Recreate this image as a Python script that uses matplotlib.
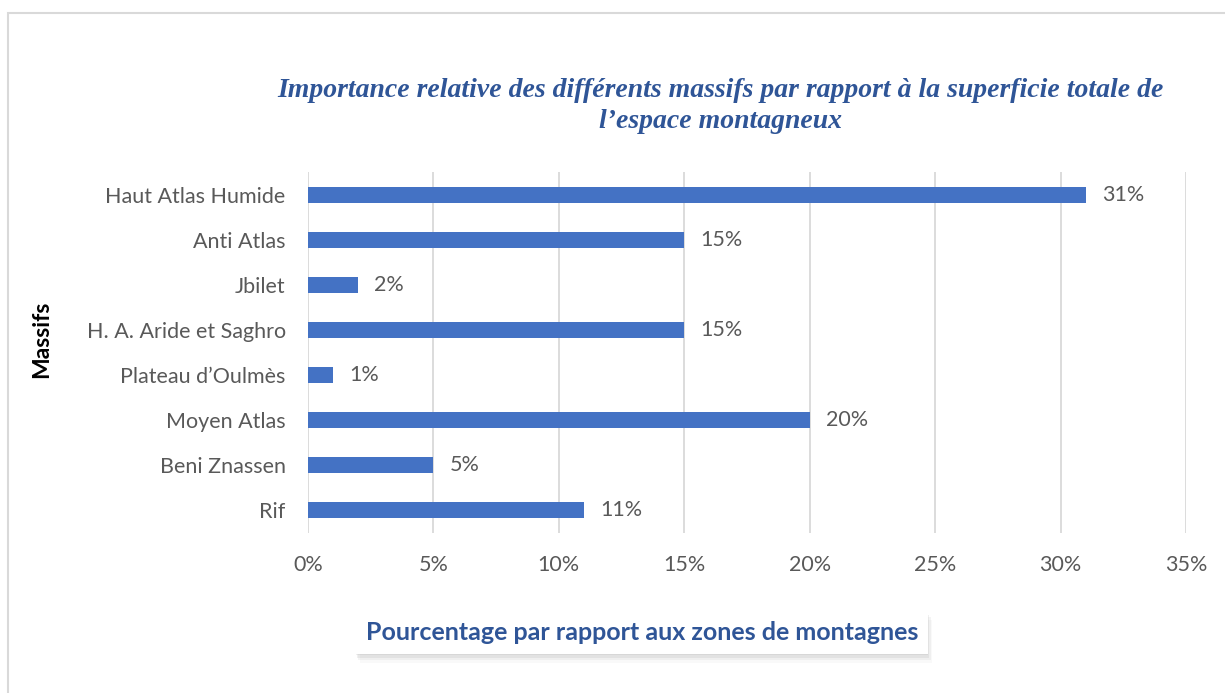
import matplotlib.pyplot as plt
import matplotlib.patheffects as pe
from matplotlib.patches import Rectangle
from matplotlib.ticker import FuncFormatter

massifs = ["Haut Atlas Humide", "Anti Atlas", "Jbilet", "H. A. Aride et Saghro",
           "Plateau d\u2019Oulm\u00e8s", "Moyen Atlas", "Beni Znassen", "Rif"]
pourcentages = [31, 15, 2, 15, 1, 20, 5, 11]

BAR_COLOR = "#4472C4"
TEXT_GREY = "#595959"
BLUE = "#2F5597"
FS = 15.5

fig = plt.figure(figsize=(12.25, 6.93), dpi=100)
fig.patches.append(Rectangle((8 / 1225, -0.1), 1.2, 1 - 13 / 693 + 0.1,
                             transform=fig.transFigure, fill=False,
                             edgecolor="#D9D9D9", linewidth=1.5, zorder=0))

ax = fig.add_axes([0.2514, 0.2316, 0.7167, 0.5195])
y = list(range(len(massifs)))
bars = ax.barh(y, pourcentages, height=0.36, color=BAR_COLOR, zorder=3)
ax.set_ylim(len(massifs) - 0.5, -0.5)
ax.set_xlim(0, 35)
ax.set_xticks(range(0, 36, 5))
ax.xaxis.set_major_formatter(FuncFormatter(lambda v, p: f"{v:.0f}%"))
ax.set_yticks(y)
ax.set_yticklabels(massifs)

for b, v in zip(bars, pourcentages):
    ax.text(b.get_width() + 0.65, b.get_y() + b.get_height() / 2, f"{v}%",
            va="center", ha="left", fontsize=FS, color=TEXT_GREY, family="Lato")

ax.grid(axis="x", color="#D9D9D9", linewidth=1.3, zorder=0)
for s in ax.spines.values():
    s.set_visible(False)
ax.tick_params(axis="both", length=0, labelsize=FS, labelcolor=TEXT_GREY)
ax.tick_params(axis="y", pad=16)
ax.tick_params(axis="x", pad=16)
for lbl in ax.get_xticklabels() + ax.get_yticklabels():
    lbl.set_family("Lato")

fig.text(0.588, 0.847,
         "Importance relative des diff\u00e9rents massifs par rapport \u00e0 la superficie totale de\n"
         "l\u2019espace montagneux",
         ha="center", va="center", fontsize=20, fontweight="bold", style="italic",
         family="Liberation Serif", color=BLUE, linespacing=1.3)

fig.text(0.034, 0.51, "Massifs", rotation=90, ha="center", va="center",
         fontsize=16.5, fontweight="bold", color="black", family="Lato")

xl = fig.text(0.524, 0.088, "Pourcentage par rapport aux zones de montagnes",
              ha="center", va="center", fontsize=18, fontweight="bold",
              color=BLUE, family="Lato",
              bbox=dict(boxstyle="square,pad=0.4", facecolor="white", edgecolor="none"))
# soft drop shadow under the label box
xl.get_bbox_patch().set_path_effects([
    pe.SimplePatchShadow(offset=(3, -7), shadow_rgbFace="#999999", alpha=0.06),
    pe.SimplePatchShadow(offset=(2, -5), shadow_rgbFace="#999999", alpha=0.10),
    pe.SimplePatchShadow(offset=(1, -3), shadow_rgbFace="#999999", alpha=0.14),
    pe.SimplePatchShadow(offset=(0, -1), shadow_rgbFace="#999999", alpha=0.14),
    pe.Normal()])

fig.savefig("out.png", dpi=100, facecolor="white")
